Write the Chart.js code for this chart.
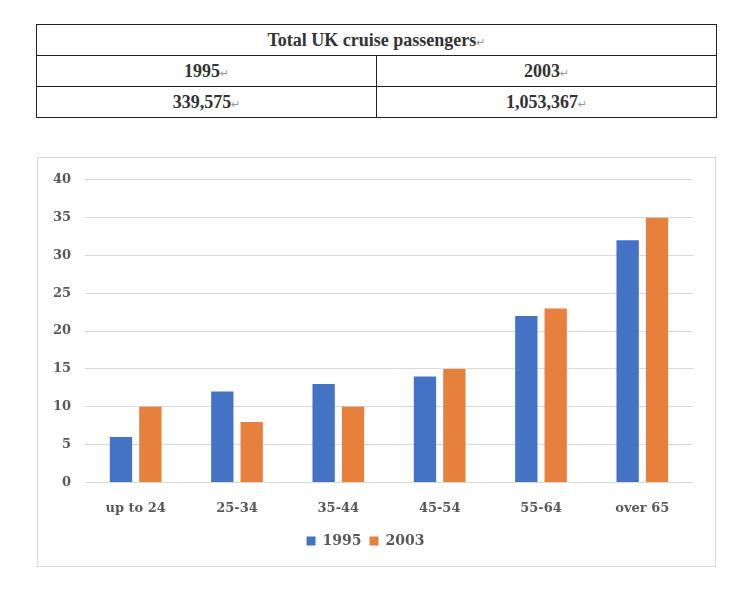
<!DOCTYPE html>
<html>
<head>
<meta charset="utf-8">
<script src="https://cdn.jsdelivr.net/npm/chart.js@4"></script>
<style>
  body { margin: 0; background: #fff; width: 748px; height: 590px; position: relative; overflow: hidden; }
  table {
    position: absolute; left: 36px; top: 24px; width: 681px;
    border-collapse: collapse; font-family: "Liberation Serif", serif; font-weight: bold;
    font-size: 18px; color: #333;
  }
  td { border: 1px solid #222; height: 30px; padding: 0; text-align: center; }
  .m { font-family: "DejaVu Sans", sans-serif; font-weight: normal; font-size: 11px; color: #999; }
  #box { position: absolute; left: 37px; top: 157px; width: 677px; height: 408px; border: 1px solid #d9d9d9; }
  #wrap { position: absolute; left: 0; top: 0; width: 677px; height: 408px; }
</style>
</head>
<body>
<table>
  <tr><td colspan="2">Total UK cruise passengers<span class="m">↵</span></td></tr>
  <tr><td style="width:50%">1995<span class="m">↵</span></td><td>2003<span class="m">↵</span></td></tr>
  <tr><td>339,575<span class="m">↵</span></td><td>1,053,367<span class="m">↵</span></td></tr>
</table>
<div id="box"><div id="wrap"><canvas id="myChart"></canvas></div></div>
<script>
const ageGroups = ['up to 24', '25-34', '35-44', '45-54', '55-64', 'over 65'];
const values1995 = [6, 12, 13, 14, 22, 32];
const values2003 = [10, 8, 10, 15, 23, 35];

const ctx = document.getElementById('myChart').getContext('2d');
new Chart(ctx, {
    type: 'bar',
    data: {
        labels: ageGroups,
        datasets: [{
            label: '1995',
            data: values1995,
            backgroundColor: '#4472C4',
            categoryPercentage: 0.58,
            barPercentage: 0.76
        }, {
            label: '2003',
            data: values2003,
            backgroundColor: '#E7803D',
            categoryPercentage: 0.58,
            barPercentage: 0.76
        }]
    },
    options: {
        responsive: true,
        maintainAspectRatio: false,
        animation: false,
        layout: { padding: { left: 0, right: 22, top: 21, bottom: 8 } },
        plugins: {
            tooltip: { enabled: false },
            legend: {
                position: 'bottom',
                labels: {
                    boxWidth: 9, boxHeight: 9, padding: 8,
                    color: '#595959',
                    font: { family: 'DejaVu Serif', weight: 'bold', size: 14 }
                }
            }
        },
        scales: {
            x: {
                grid: { display: false },
                border: { display: false },
                ticks: {
                    color: '#595959', padding: 10,
                    font: { family: 'DejaVu Serif', weight: 'bold', size: 13 }
                }
            },
            y: {
                min: 0, max: 40,
                ticks: {
                    stepSize: 5, color: '#595959', padding: 14,
                    font: { family: 'DejaVu Serif', weight: 'bold', size: 13 }
                },
                grid: { color: '#d9d9d9', drawTicks: false },
                border: { display: false },
                afterFit: function(axis) { axis.width = 47; }
            }
        }
    }
});
</script>
</body>
</html>
